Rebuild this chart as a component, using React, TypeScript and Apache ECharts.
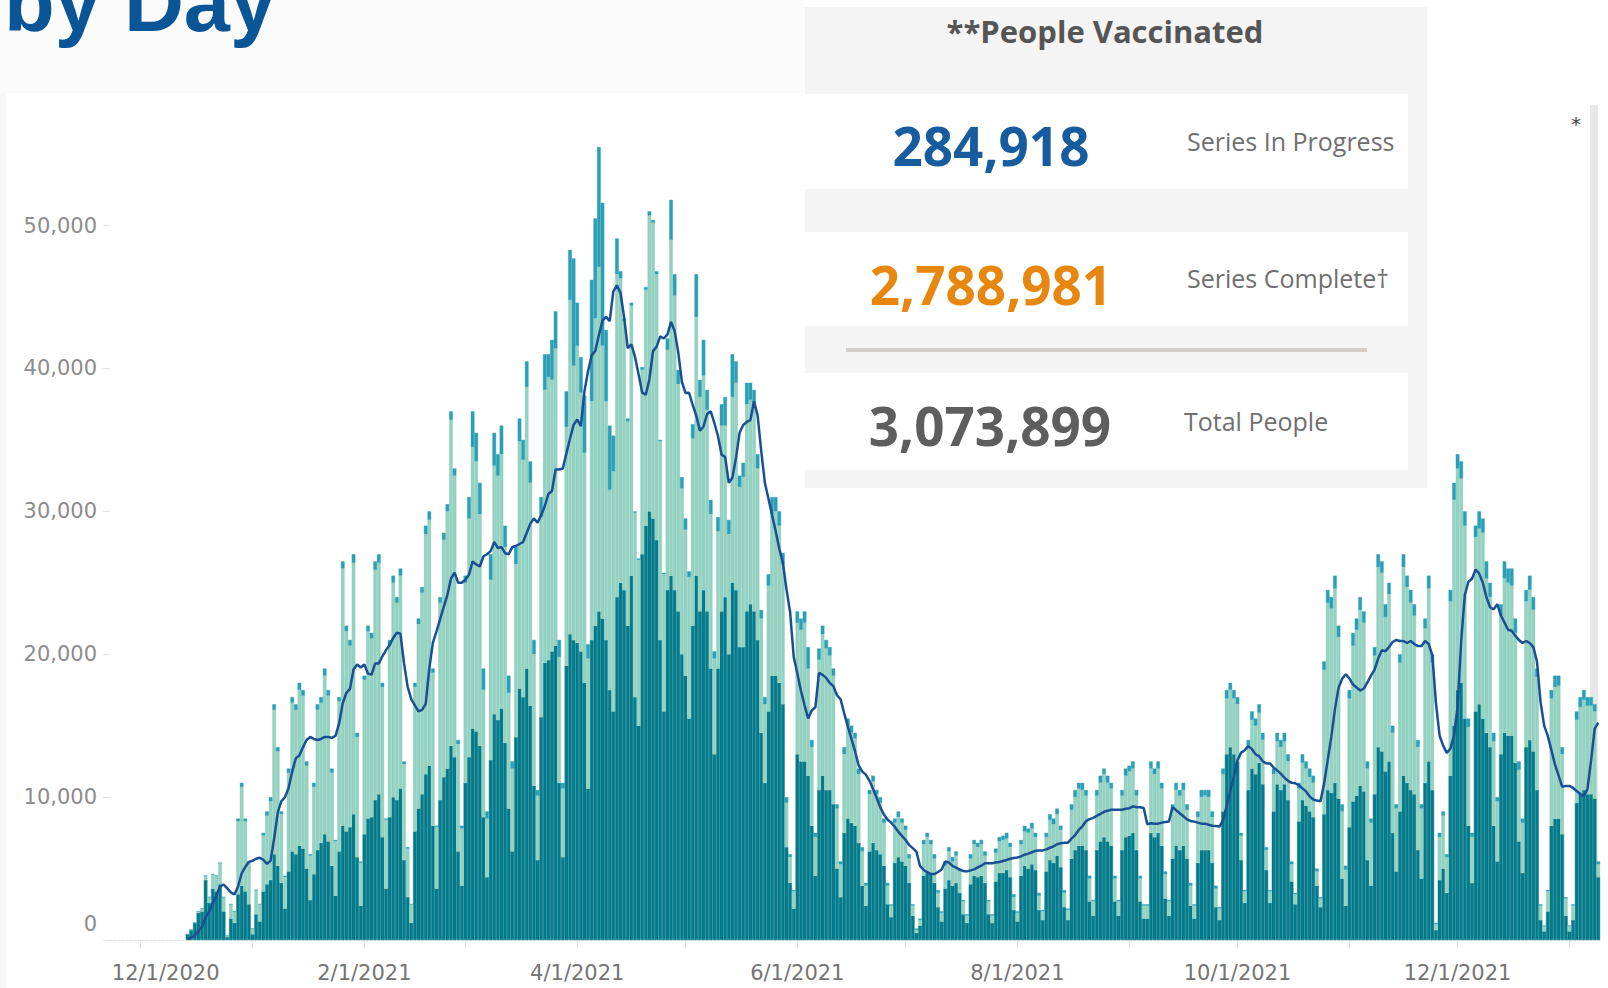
import React, { useEffect, useRef } from 'react';
import * as echarts from 'echarts';

// Daily values in thousands, one row per week (Mon..Sun), from Mon 12/14/2020 to Sun 1/9/2022
const totalK: number[][] = [
  [0.4, 0.7, 1.2, 2.0, 2.2, 4.5, 3.0],
  [4.6, 4.5, 5.4, 3.0, 0.3, 2.5, 2.0],
  [8.5, 11.0, 8.5, 5.5, 0.8, 3.5, 2.5],
  [7.5, 9.0, 10.0, 16.5, 13.5, 9.0, 4.5],
  [12.0, 17.0, 16.5, 18.0, 17.5, 12.5, 6.0],
  [11.0, 16.5, 17.0, 19.0, 17.5, 12.0, 7.0],
  [17.0, 26.5, 22.0, 21.0, 27.0, 14.5, 5.5],
  [18.5, 22.0, 21.5, 26.5, 27.0, 18.0, 8.5],
  [21.0, 25.5, 24.0, 26.0, 12.5, 6.5, 2.5],
  [18.0, 22.5, 24.7, 29.0, 30.0, 19.0, 8.0],
  [24.0, 28.5, 30.5, 37.0, 33.0, 14.0, 8.0],
  [25.5, 31.0, 37.0, 35.5, 32.0, 19.0, 9.0],
  [27.0, 35.5, 34.0, 36.0, 29.0, 18.5, 12.5],
  [27.5, 36.5, 35.0, 40.5, 33.5, 21.0, 10.5],
  [31.0, 41.0, 41.0, 42.0, 44.0, 21.0, 11.0],
  [38.4, 48.3, 47.7, 44.6, 40.8, 38.1, 20.7],
  [46.2, 50.5, 55.5, 51.6, 42.7, 36.0, 35.3],
  [49.1, 46.8, 43.5, 36.5, 44.6, 30.0, 26.7],
  [40.1, 45.7, 51.0, 50.4, 46.8, 35.0, 25.7],
  [42.1, 51.8, 46.6, 39.9, 32.4, 29.5, 25.8],
  [36.1, 46.6, 39.2, 42.0, 38.5, 30.8, 20.2],
  [29.6, 37.5, 38.0, 29.4, 41.0, 40.5, 32.5],
  [33.4, 39.0, 39.0, 38.5, 34.0, 23.1, 17.0],
  [25.6, 31.0, 31.0, 30.0, 27.1, 10.0, 6.0],
  [3.5, 23.0, 22.5, 23.0, 20.5, 14.0, 7.5],
  [20.4, 22.0, 21.0, 20.5, 19.0, 9.5, 5.5],
  [13.5, 15.5, 15.0, 14.5, 12.0, 6.5, 4.0],
  [10.5, 11.5, 10.5, 10.0, 8.5, 4.0, 2.5],
  [8.5, 9.0, 8.5, 8.0, 6.0, 2.5, 0.8],
  [1.5, 7.0, 7.5, 7.0, 6.0, 3.5, 2.0],
  [5.5, 6.5, 5.8, 6.2, 5.0, 2.8, 1.8],
  [6.0, 7.0, 6.8, 7.0, 6.2, 2.8, 1.8],
  [6.4, 7.2, 7.3, 7.5, 6.8, 3.2, 2.0],
  [7.0, 8.0, 7.8, 8.2, 7.5, 3.3, 2.1],
  [7.5, 8.8, 8.5, 9.2, 8.0, 3.5, 2.2],
  [9.5, 10.5, 11.0, 11.0, 10.5, 4.5, 2.8],
  [10.5, 11.5, 12.0, 11.5, 11.0, 4.5, 2.8],
  [10.5, 12.0, 12.2, 12.5, 10.5, 4.5, 2.5],
  [2.5, 12.5, 12.0, 12.5, 11.0, 4.8, 2.8],
  [9.5, 11.0, 10.5, 11.0, 9.5, 4.0, 2.5],
  [9.0, 10.5, 10.5, 10.5, 9.0, 3.8, 2.3],
  [12.0, 17.5, 18.0, 17.5, 17.0, 7.5, 3.5],
  [14.0, 16.0, 15.5, 16.5, 14.5, 6.5, 3.5],
  [12.0, 14.5, 14.0, 14.5, 13.0, 5.5, 3.3],
  [11.0, 13.0, 12.5, 12.0, 11.5, 5.0, 3.0],
  [19.5, 24.5, 24.0, 25.5, 22.0, 9.5, 5.2],
  [17.5, 21.5, 22.5, 24.0, 23.0, 12.5, 8.5],
  [20.5, 27.0, 26.5, 23.5, 25.0, 15.0, 9.5],
  [20.0, 27.0, 25.5, 24.5, 23.5, 14.0, 9.5],
  [22.5, 25.5, 20.0, 1.2, 7.5, 9.0, 6.0],
  [24.5, 32.0, 34.0, 33.5, 30.0, 15.5, 7.5],
  [29.0, 30.0, 29.5, 26.5, 25.0, 14.5, 10.0],
  [23.5, 26.5, 26.0, 26.0, 22.5, 12.5, 8.5],
  [24.5, 25.5, 24.0, 19.0, 2.5, 1.0, 3.5],
  [17.5, 18.5, 18.5, 13.5, 3.0, 1.0, 2.5],
  [16.0, 17.0, 17.5, 17.0, 17.0, 16.5, 5.5],
];

const darkK: number[][] = [
  [0.4, 0.7, 1.2, 1.9, 2.0, 4.2, 2.6],
  [3.6, 3.4, 3.9, 2.0, 0.2, 1.5, 1.2],
  [3.2, 3.8, 3.4, 2.5, 0.4, 1.8, 1.3],
  [3.4, 3.9, 4.2, 6.0, 5.2, 4.0, 2.2],
  [4.8, 6.2, 6.0, 6.6, 6.4, 5.0, 2.8],
  [4.6, 6.3, 6.8, 7.4, 6.9, 5.2, 3.1],
  [6.2, 8.0, 7.6, 7.9, 8.8, 5.8, 2.4],
  [7.4, 8.5, 8.6, 9.8, 10.2, 7.2, 3.6],
  [8.6, 10.0, 9.8, 10.6, 5.6, 3.0, 1.2],
  [7.6, 9.2, 10.2, 11.6, 12.2, 8.0, 3.6],
  [9.8, 11.4, 12.0, 13.6, 12.8, 6.2, 3.8],
  [11.0, 12.8, 14.8, 14.6, 13.6, 8.6, 4.4],
  [12.6, 15.8, 15.4, 16.2, 13.8, 9.2, 6.2],
  [14.2, 17.6, 17.0, 19.0, 16.4, 10.8, 5.6],
  [15.6, 19.4, 19.6, 20.2, 20.6, 11.0, 5.8],
  [19.2, 21.4, 21.0, 20.8, 20.2, 18.0, 10.6],
  [21.0, 22.0, 23.0, 22.5, 21.0, 17.5, 16.0],
  [24.0, 25.0, 24.5, 22.0, 25.5, 17.0, 15.0],
  [27.0, 29.0, 30.0, 29.5, 28.0, 21.0, 16.0],
  [24.5, 25.5, 24.5, 23.0, 20.0, 18.5, 15.5],
  [22.0, 25.5, 23.0, 24.5, 23.0, 19.0, 13.0],
  [19.0, 23.0, 24.0, 20.0, 25.0, 24.5, 20.5],
  [20.5, 23.0, 23.5, 23.0, 21.0, 14.5, 11.0],
  [16.0, 18.5, 18.5, 18.0, 16.5, 6.5, 4.0],
  [2.2, 13.0, 12.5, 12.5, 11.5, 8.0, 4.5],
  [10.5, 11.5, 10.5, 10.5, 9.5, 5.0, 3.0],
  [7.5, 8.5, 8.2, 8.0, 6.8, 3.8, 2.4],
  [6.2, 6.8, 6.3, 6.0, 5.2, 2.5, 1.6],
  [5.4, 5.8, 5.5, 5.2, 4.0, 1.7, 0.5],
  [1.0, 4.5, 4.8, 4.6, 4.0, 2.3, 1.3],
  [3.6, 4.2, 3.8, 4.0, 3.3, 1.8, 1.2],
  [3.9, 4.5, 4.4, 4.5, 4.0, 1.8, 1.2],
  [4.1, 4.7, 4.7, 4.9, 4.4, 2.1, 1.3],
  [4.5, 5.2, 5.0, 5.3, 4.9, 2.1, 1.4],
  [4.8, 5.6, 5.4, 5.9, 5.1, 2.3, 1.4],
  [5.7, 6.3, 6.6, 6.6, 6.3, 2.7, 1.7],
  [6.3, 6.9, 7.2, 6.9, 6.6, 2.7, 1.7],
  [6.3, 7.2, 7.3, 7.5, 6.3, 2.7, 1.5],
  [1.5, 7.5, 7.2, 7.5, 6.6, 2.9, 1.7],
  [5.7, 6.6, 6.3, 6.6, 5.7, 2.4, 1.5],
  [5.4, 6.3, 6.3, 6.3, 5.4, 2.3, 1.4],
  [9.0, 13.0, 13.5, 13.0, 12.5, 5.6, 2.6],
  [10.5, 12.0, 11.6, 12.4, 10.9, 4.9, 2.6],
  [9.0, 10.9, 10.5, 10.9, 9.8, 4.1, 2.5],
  [8.3, 9.8, 9.4, 9.0, 8.6, 3.8, 2.3],
  [8.8, 10.5, 10.3, 11.0, 9.9, 4.3, 2.4],
  [7.9, 9.7, 10.1, 10.8, 10.4, 5.6, 3.8],
  [10.2, 13.5, 13.2, 11.8, 12.5, 7.5, 4.8],
  [9.0, 11.5, 11.0, 10.5, 10.2, 6.3, 4.3],
  [11.0, 12.5, 10.5, 0.7, 4.2, 5.0, 3.3],
  [11.5, 15.0, 17.5, 18.0, 15.5, 8.0, 4.0],
  [16.0, 16.5, 15.5, 14.5, 13.5, 8.0, 5.5],
  [13.0, 14.5, 14.3, 14.3, 12.4, 6.9, 4.7],
  [13.5, 14.0, 13.2, 10.5, 1.4, 0.6, 2.0],
  [8.0, 8.5, 8.5, 7.4, 1.7, 0.6, 1.4],
  [9.6, 10.2, 10.5, 10.2, 10.2, 9.9, 4.4],
];

const mediumK: number[][] = [
  [0, 0, 0, 0, 0, 0, 0],
  [0, 0, 0, 0, 0, 0, 0],
  [0.2, 0.3, 0.2, 0.1, 0, 0, 0],
  [0.2, 0.3, 0.3, 0.4, 0.3, 0.2, 0.1],
  [0.3, 0.4, 0.4, 0.5, 0.4, 0.3, 0.1],
  [0.3, 0.4, 0.4, 0.5, 0.4, 0.3, 0.1],
  [0.3, 0.5, 0.4, 0.4, 0.6, 0.3, 0.1],
  [0.3, 0.4, 0.4, 0.6, 0.6, 0.3, 0.1],
  [0.4, 0.5, 0.4, 0.5, 0.2, 0.1, 0.0],
  [0.3, 0.4, 0.4, 0.6, 0.6, 0.3, 0.1],
  [0.4, 0.5, 0.5, 0.6, 0.5, 0.3, 0.2],
  [0.5, 1.5, 2.5, 2.0, 2.2, 1.5, 0.5],
  [1.8, 2.3, 1.5, 2.0, 1.5, 1.2, 0.5],
  [1.2, 1.6, 1.4, 1.8, 1.5, 1.0, 0.4],
  [1.4, 2.5, 1.6, 2.8, 2.6, 1.2, 0.4],
  [2.5, 3.5, 7.5, 3.0, 2.5, 4.0, 1.0],
  [8.5, 7.0, 8.4, 10.0, 5.0, 4.5, 2.5],
  [2.5, 0.5, 0.2, 0.2, 0.2, 0.1, 0.1],
  [0.2, 0.2, 0.3, 0.2, 0.2, 0.1, 0.1],
  [0.8, 2.8, 1.5, 1.0, 0.8, 0.8, 0.4],
  [1.0, 3.0, 1.2, 2.5, 1.4, 1.0, 0.5],
  [1.0, 1.5, 2.0, 1.0, 3.0, 1.5, 0.8],
  [1.0, 1.5, 1.2, 1.0, 1.0, 0.6, 0.5],
  [0.8, 1.2, 1.0, 1.0, 0.8, 0.4, 0.2],
  [0.1, 0.8, 0.8, 0.8, 1.5, 0.5, 0.3],
  [0.8, 0.6, 0.6, 0.6, 0.5, 0.3, 0.2],
  [0.5, 0.5, 0.5, 0.4, 0.4, 0.3, 0.2],
  [0.3, 0.4, 0.3, 0.4, 0.3, 0.2, 0.1],
  [0.3, 0.4, 0.3, 0.3, 0.3, 0.1, 0.1],
  [0.1, 0.3, 0.3, 0.3, 0.3, 0.2, 0.1],
  [0.3, 0.3, 0.3, 0.3, 0.2, 0.1, 0.1],
  [0.3, 0.3, 0.3, 0.3, 0.3, 0.1, 0.1],
  [0.3, 0.3, 0.3, 0.4, 0.3, 0.2, 0.1],
  [0.3, 0.4, 0.3, 0.4, 0.3, 0.2, 0.1],
  [0.3, 0.4, 0.4, 0.4, 0.3, 0.2, 0.1],
  [0.4, 0.5, 0.4, 0.5, 0.4, 0.2, 0.1],
  [0.4, 0.5, 0.4, 0.5, 0.4, 0.2, 0.1],
  [0.4, 0.5, 0.4, 0.5, 0.4, 0.2, 0.1],
  [0.1, 0.5, 0.4, 0.5, 0.4, 0.2, 0.1],
  [0.4, 0.5, 0.4, 0.5, 0.4, 0.2, 0.1],
  [0.4, 0.5, 0.4, 0.5, 0.4, 0.2, 0.1],
  [0.4, 0.6, 0.5, 0.6, 0.5, 0.2, 0.1],
  [0.4, 0.6, 0.5, 0.6, 0.5, 0.2, 0.1],
  [0.4, 0.6, 0.5, 0.6, 0.5, 0.2, 0.1],
  [0.4, 0.6, 0.5, 0.6, 0.5, 0.2, 0.1],
  [0.6, 0.9, 0.8, 0.9, 0.8, 0.5, 0.3],
  [0.6, 0.9, 0.8, 0.9, 0.8, 0.5, 0.3],
  [0.6, 0.9, 0.8, 0.9, 0.8, 0.5, 0.3],
  [0.6, 0.9, 0.8, 0.9, 0.8, 0.5, 0.3],
  [0.7, 0.9, 0.6, 0.1, 0.3, 0.3, 0.2],
  [0.8, 1.2, 1.0, 1.2, 1.0, 0.6, 0.3],
  [0.8, 1.2, 1.0, 1.2, 1.0, 0.6, 0.3],
  [0.8, 1.2, 1.0, 1.2, 1.0, 0.6, 0.3],
  [0.8, 1.0, 0.9, 0.6, 0.1, 0.0, 0.1],
  [0.6, 0.8, 0.7, 0.5, 0.1, 0.0, 0.1],
  [0.6, 0.7, 0.7, 0.6, 0.6, 0.5, 0.2],
];

const xTickLabels = ['12/1/2020', '2/1/2021', '4/1/2021', '6/1/2021', '8/1/2021', '10/1/2021', '12/1/2021'];
const yTickValues = [0, 10000, 20000, 30000, 40000, 50000];

const panelNumbers = ['284,918', '2,788,981', '3,073,899'];
const panelLabels = ['Series In Progress', 'Series Complete\u2020', 'Total People'];
const panelTitle = '**People Vaccinated';
const pageTitle = 'by Day';

// axis spans 11/23/2020 .. 1/9/2022, data starts 12/14/2020
const AXIS_DAYS = 413;
const LEAD_DAYS = 21;

const DARK = '#047a8a';
const LIGHT = '#93d1c1';
const MEDIUM = '#2b9fb6';

function buildOption() {
  const cats: string[] = [];
  for (let i = 0; i < AXIS_DAYS; i++) {
    const d = new Date(Date.UTC(2020, 10, 23 + i));
    cats.push(`${d.getUTCMonth() + 1}/${d.getUTCDate()}/${d.getUTCFullYear()}`);
  }
  const tot = totalK.flat();
  const dk = darkK.flat();
  const md = mediumK.flat();
  const pad: (number | null)[] = new Array(LEAD_DAYS).fill(null);
  const dark = pad.concat(dk.map((v) => Math.round(v * 1000)));
  const medium = pad.concat(md.map((v) => Math.round(v * 1000)));
  const light = pad.concat(tot.map((t, i) => Math.max(0, Math.round((t - dk[i] - md[i]) * 1000))));
  const avg = pad.concat(
    tot.map((_, i) => {
      let s = 0;
      for (let k = Math.max(0, i - 6); k <= i; k++) s += tot[k];
      return Math.round((s / 7) * 1000);
    })
  );

  const labelFont = 'DejaVu Sans';
  const gridLeft = 110;
  const bandW = 3.608;
  const gridRight = 1608 - (gridLeft + AXIS_DAYS * bandW);

  return {
    animation: false,
    backgroundColor: '#ffffff',
    grid: { left: gridLeft, right: gridRight, top: 97, bottom: 48, containLabel: false },
    xAxis: {
      type: 'category',
      data: cats,
      boundaryGap: true,
      axisLine: { show: true, lineStyle: { color: '#d9d9d9', width: 1, type: [2, 2] } },
      axisTick: {
        show: true,
        alignWithLabel: true,
        length: 8,
        lineStyle: { color: '#e2e2e2' },
        interval: (_i: number, v: string) => v.split('/')[1] === '1',
      },
      axisLabel: {
        interval: (_i: number, v: string) => xTickLabels.includes(v),
        margin: 22,
        color: '#747474',
        fontFamily: labelFont,
        fontSize: 21,
        formatter: (v: string) => (v === xTickLabels[0] ? `{first|${v}}` : v),
        rich: {
          first: { padding: [0, 0, 0, 50], color: '#747474', fontFamily: labelFont, fontSize: 21 },
        },
      },
      splitLine: { show: false },
    },
    yAxis: {
      type: 'value',
      min: 0,
      max: 59000,
      interval: 10000,
      axisLine: { show: false },
      axisTick: { show: true, length: 7, lineStyle: { color: '#e4e4e4' }, customValues: yTickValues },
      splitLine: { show: false },
      axisLabel: {
        margin: 13,
        color: '#8c8c8c',
        fontFamily: labelFont,
        fontSize: 21,
        customValues: yTickValues,
        formatter: (v: number) => {
          if (!yTickValues.includes(v)) return '';
          if (v === 0) return '{zero|0}';
          return v.toLocaleString('en-US');
        },
        rich: {
          zero: { padding: [0, 0, 32, 0], color: '#8c8c8c', fontFamily: labelFont, fontSize: 21 },
        },
      },
    },
    series: [
      {
        name: 'Dark',
        type: 'bar',
        stack: 'v',
        data: dark,
        barCategoryGap: '0%',
        itemStyle: { color: DARK, borderColor: DARK, borderWidth: 0.5 },
        emphasis: { disabled: true },
      },
      {
        name: 'Light',
        type: 'bar',
        stack: 'v',
        data: light,
        itemStyle: { color: LIGHT, borderColor: LIGHT, borderWidth: 0.4 },
        emphasis: { disabled: true },
      },
      {
        name: 'Medium',
        type: 'bar',
        stack: 'v',
        data: medium,
        itemStyle: { color: MEDIUM, borderColor: MEDIUM, borderWidth: 0.4 },
        emphasis: { disabled: true },
      },
      {
        name: '7-day average',
        type: 'line',
        data: avg,
        showSymbol: false,
        symbol: 'none',
        z: 5,
        lineStyle: { color: '#1b4f93', width: 2.5 },
        emphasis: { disabled: true },
      },
    ],
    graphic: [
      { type: 'rect', z: 0, shape: { x: 0, y: 0, width: 805, height: 93 }, style: { fill: '#fbfbfb' } },
      { type: 'rect', z: 0, shape: { x: 0, y: 93, width: 6, height: 895 }, style: { fill: '#f8f8f8' } },
      { type: 'rect', z: 0, shape: { x: 1590, y: 105, width: 8, height: 835 }, style: { fill: '#e8e8e8' } },
      {
        type: 'text',
        z: 50,
        style: {
          text: pageTitle,
          x: 4,
          y: 2,
          fill: '#0a5596',
          font: 'bold 83px "Liberation Sans", Arial, sans-serif',
          textAlign: 'left',
          textVerticalAlign: 'middle',
          align: 'left',
          verticalAlign: 'middle',
        },
      },
      {
        type: 'text',
        z: 50,
        style: {
          text: '*',
          x: 1576,
          y: 124,
          fill: '#444',
          font: '20px "DejaVu Sans", sans-serif',
          textAlign: 'center',
          textVerticalAlign: 'middle',
          align: 'center',
          verticalAlign: 'middle',
        },
      },
      {
        type: 'group',
        z: 100,
        children: [
          { type: 'rect', z: 100, shape: { x: 805, y: 7, width: 622, height: 481 }, style: { fill: '#f4f4f4' } },
          { type: 'rect', z: 101, shape: { x: 805, y: 94, width: 603, height: 95 }, style: { fill: '#ffffff' } },
          { type: 'rect', z: 101, shape: { x: 805, y: 232, width: 603, height: 94 }, style: { fill: '#ffffff' } },
          { type: 'rect', z: 101, shape: { x: 805, y: 373, width: 603, height: 97 }, style: { fill: '#ffffff' } },
          { type: 'line', z: 101, shape: { x1: 846, y1: 350, x2: 1367, y2: 350 }, style: { stroke: '#d4ccc7', lineWidth: 4 } },
          {
            type: 'text', z: 102,
            style: { text: panelTitle, x: 1105, y: 31, fill: '#555555', font: 'bold 31px "Open Sans", sans-serif', textAlign: 'center', textVerticalAlign: 'middle', align: 'center', verticalAlign: 'middle' },
          },
          {
            type: 'text', z: 102,
            style: { text: panelNumbers[0], x: 991, y: 145, fill: '#175c9e', font: 'bold 53px "Open Sans", sans-serif', textAlign: 'center', textVerticalAlign: 'middle', align: 'center', verticalAlign: 'middle' },
          },
          {
            type: 'text', z: 102,
            style: { text: panelNumbers[1], x: 991, y: 284, fill: '#e8870f', font: 'bold 53px "Open Sans", sans-serif', textAlign: 'center', textVerticalAlign: 'middle', align: 'center', verticalAlign: 'middle' },
          },
          {
            type: 'text', z: 102,
            style: { text: panelNumbers[2], x: 990, y: 425, fill: '#5e5e5e', font: 'bold 53px "Open Sans", sans-serif', textAlign: 'center', textVerticalAlign: 'middle', align: 'center', verticalAlign: 'middle' },
          },
          {
            type: 'text', z: 102,
            style: { text: panelLabels[0], x: 1187, y: 141, fill: '#6f6f6f', font: '25px "Open Sans", sans-serif', textAlign: 'left', textVerticalAlign: 'middle', align: 'left', verticalAlign: 'middle' },
          },
          {
            type: 'text', z: 102,
            style: { text: panelLabels[1], x: 1187, y: 278, fill: '#6f6f6f', font: '25px "Open Sans", sans-serif', textAlign: 'left', textVerticalAlign: 'middle', align: 'left', verticalAlign: 'middle' },
          },
          {
            type: 'text', z: 102,
            style: { text: panelLabels[2], x: 1184, y: 421, fill: '#6f6f6f', font: '25px "Open Sans", sans-serif', textAlign: 'left', textVerticalAlign: 'middle', align: 'left', verticalAlign: 'middle' },
          },
        ],
      },
    ],
  };
}

export default function App() {
  const ref = useRef<HTMLDivElement>(null);
  useEffect(() => {
    if (!ref.current) return;
    const chart = echarts.init(ref.current, null, { renderer: 'svg' });
    chart.setOption(buildOption() as any);
    return () => chart.dispose();
  }, []);
  return (
    <div
      ref={ref}
      style={{ position: 'fixed', left: 0, top: 0, width: 1608, height: 988, background: '#ffffff' }}
    />
  );
}
